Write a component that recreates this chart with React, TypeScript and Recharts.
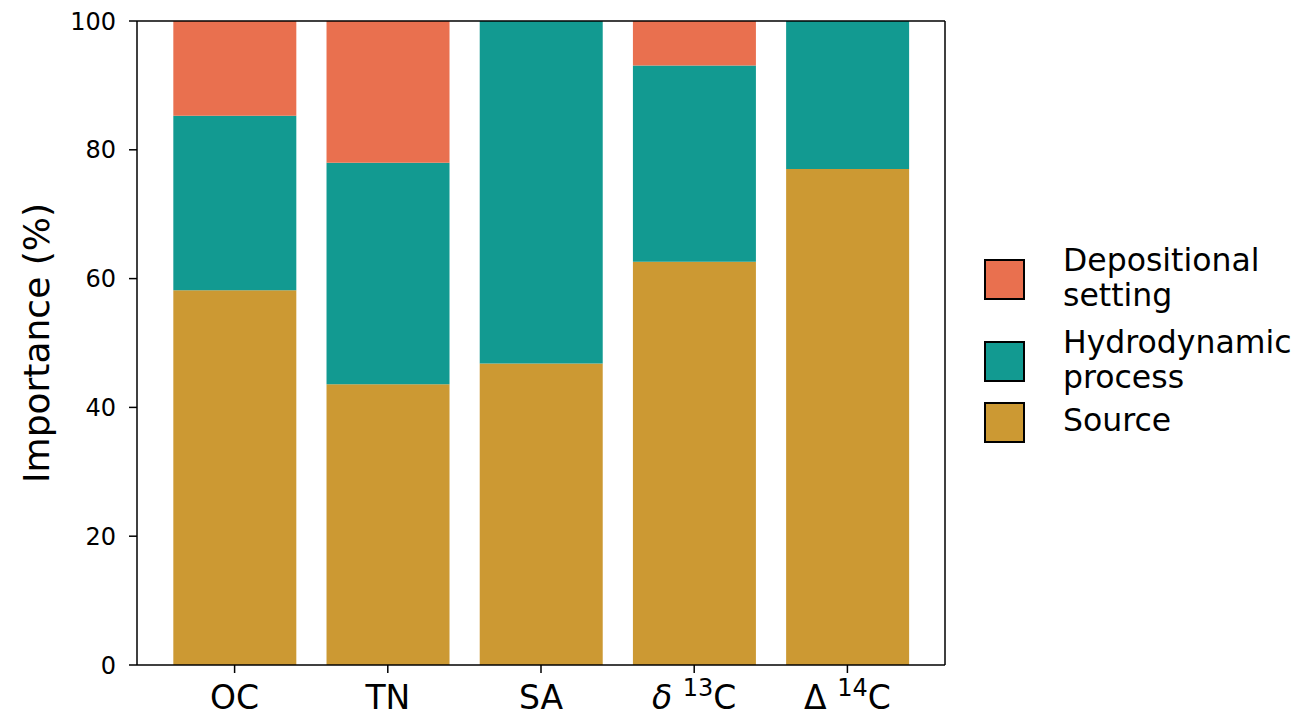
import { BarChart, Bar, XAxis, YAxis } from 'recharts'

const categories = ['OC', 'TN', 'SA', 'd13C', 'D14C']
const sourceValues = [58.2, 43.6, 46.8, 62.6, 77.0]
const hydroValues = [27.1, 34.4, 53.2, 30.5, 23.0]
const depositionalValues = [14.7, 22.0, 0, 6.9, 0]
const yTicks = [0, 20, 40, 60, 80, 100]

const data = categories.map((name, i) => ({
  name,
  source: sourceValues[i],
  hydro: hydroValues[i],
  depositional: depositionalValues[i],
}))

const colors = {
  depositional: '#E9704F',
  hydro: '#129A91',
  source: '#CC9933',
}

const font = '"DejaVu Sans", sans-serif'

function XTick(props: { x?: number; y?: number; payload?: { value: string } }) {
  const { x = 0, y = 0, payload } = props
  const v = payload?.value ?? ''
  let content: React.ReactNode = v
  if (v === 'd13C') {
    content = (
      <>
        <tspan fontStyle="italic">δ</tspan>
        <tspan> </tspan>
        <tspan fontSize={24} dy={-13}>13</tspan>
        <tspan dy={13}>C</tspan>
      </>
    )
  } else if (v === 'D14C') {
    content = (
      <>
        <tspan>Δ </tspan>
        <tspan fontSize={24} dy={-13}>14</tspan>
        <tspan dy={13}>C</tspan>
      </>
    )
  }
  return (
    <text x={x} y={y + 34} textAnchor="middle" fontSize={33} fontFamily={font} fill="#000">
      {content}
    </text>
  )
}

const legendItems = [
  { key: 'depositional', lines: ['Depositional', 'setting'], top: 20 },
  { key: 'hydro', lines: ['Hydrodynamic', 'process'], top: 102 },
  { key: 'source', lines: ['Source'], top: 163 },
]

function LegendBox() {
  return (
    <svg width={320} height={220} style={{ position: 'absolute', left: 984, top: 240 }}>
      {legendItems.map((it) => {
        const mid = it.top + 20
        const n = it.lines.length
        return (
          <g key={it.key}>
            <rect x={1} y={it.top} width={39} height={39} fill={colors[it.key as keyof typeof colors]} stroke="#000" strokeWidth={2} />
            {it.lines.map((l, j) => (
              <text
                key={j}
                x={79}
                y={mid + (j - (n - 1) / 2) * 35 + 8}
                fontSize={31.5}
                fontFamily={font}
                fill="#000"
              >
                {l}
              </text>
            ))}
          </g>
        )
      })}
    </svg>
  )
}

export default function App() {
  return (
    <div style={{ position: 'relative', width: 1302, height: 716 }}>
      <style>{`body{margin:0}`}</style>
      <BarChart
        width={1302}
        height={716}
        data={data}
        margin={{ top: 20, right: 356, left: 0, bottom: 0 }}
        barCategoryGap="10%"
      >
        <XAxis
          dataKey="name"
          height={51}
          tick={<XTick />}
          tickSize={8}
          stroke="#000"
          strokeWidth={1.5}
          padding={{ left: 21, right: 21 }}
          tickLine={{ stroke: '#000', strokeWidth: 1.5 }}
        />
        <YAxis
          width={137}
          domain={[0, 100]}
          ticks={yTicks}
          tickSize={8}
          tickMargin={13}
          stroke="#000"
          strokeWidth={1.5}
          tick={{ fill: '#000', fontSize: 24, fontFamily: font }}
          tickLine={{ stroke: '#000', strokeWidth: 1.5 }}
          label={{
            value: 'Importance (%)',
            angle: -90,
            position: 'insideLeft',
            offset: 0,
            dx: 36,
            style: { fontSize: 36, fontFamily: font, fill: '#000', textAnchor: 'middle' },
          }}
        />
        <XAxis xAxisId="top" orientation="top" dataKey="name" tick={false} tickLine={false} height={1} stroke="#000" strokeWidth={1.5} padding={{ left: 21, right: 21 }} />
        <YAxis yAxisId="right" orientation="right" domain={[0, 100]} tick={false} tickLine={false} width={1} stroke="#000" strokeWidth={1.5} />
        <Bar dataKey="source" stackId="a" fill={colors.source} isAnimationActive={false} />
        <Bar dataKey="hydro" stackId="a" fill={colors.hydro} isAnimationActive={false} />
        <Bar dataKey="depositional" stackId="a" fill={colors.depositional} isAnimationActive={false} />
      </BarChart>
      <LegendBox />
    </div>
  )
}
